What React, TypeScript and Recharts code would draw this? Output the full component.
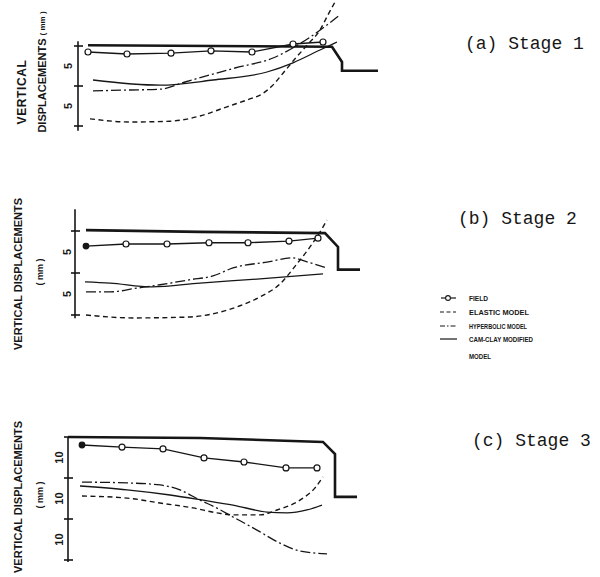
import React from 'react';
import { LineChart, Line, XAxis, YAxis, ReferenceLine } from 'recharts';

// x = distance along the section (from the displacement axis), y = vertical displacement (mm, downward)

// ---- (a) Stage 1 ----
const S1_EMBANKMENT = [{ x: 10, y: -0.1 }, { x: 254, y: 0.1 }, { x: 264, y: 2.0 }, { x: 264, y: 3.1 }, { x: 300, y: 3.1 }];
const S1_FIELD = [{ x: 10, y: 0.75 }, { x: 49, y: 1.0 }, { x: 93, y: 0.9 }, { x: 133, y: 0.6 }, { x: 174, y: 0.75 }, { x: 215, y: -0.25 }, { x: 245, y: -0.5 }];
const S1_ELASTIC = [{ x: 12, y: 9.1 }, { x: 52, y: 9.5 }, { x: 92, y: 9.4 }, { x: 122, y: 8.75 }, { x: 149, y: 7.6 }, { x: 170, y: 6.7 }, { x: 184, y: 6.0 }, { x: 194, y: 5.0 }, { x: 205, y: 3.4 }, { x: 217, y: 1.6 }, { x: 229, y: -0.1 }, { x: 242, y: -2.0 }, { x: 250, y: -3.9 }, { x: 257, y: -5.5 }];
const S1_HYPERBOLIC = [{ x: 15, y: 5.6 }, { x: 52, y: 5.5 }, { x: 82, y: 5.4 }, { x: 107, y: 4.5 }, { x: 157, y: 2.75 }, { x: 195, y: 1.5 }, { x: 232, y: -1.1 }, { x: 262, y: -3.9 }];
const S1_CAMCLAY = [{ x: 15, y: 4.25 }, { x: 82, y: 4.9 }, { x: 135, y: 4.25 }, { x: 189, y: 3.25 }, { x: 215, y: 2.1 }, { x: 242, y: 0.5 }, { x: 259, y: -0.5 }];

// ---- (b) Stage 2 ----
const S2_EMBANKMENT = [{ x: 11, y: -0.1 }, { x: 125, y: 0.1 }, { x: 250, y: 0.25 }, { x: 263, y: 1.9 }, { x: 263, y: 4.6 }, { x: 285, y: 4.6 }];
const S2_FIELD = [{ x: 11, y: 1.8 }, { x: 51, y: 1.55 }, { x: 92, y: 1.55 }, { x: 134, y: 1.4 }, { x: 173, y: 1.4 }, { x: 214, y: 1.2 }, { x: 243, y: 0.85 }];
const S2_ELASTIC = [{ x: 11, y: 10.0 }, { x: 58, y: 10.35 }, { x: 112, y: 10.25 }, { x: 142, y: 9.75 }, { x: 165, y: 8.9 }, { x: 185, y: 7.85 }, { x: 205, y: 6.3 }, { x: 222, y: 3.9 }, { x: 235, y: 1.9 }, { x: 243, y: 0.5 }, { x: 252, y: -1.3 }];
const S2_HYPERBOLIC = [{ x: 11, y: 7.25 }, { x: 35, y: 7.25 }, { x: 62, y: 6.8 }, { x: 85, y: 6.4 }, { x: 115, y: 5.8 }, { x: 138, y: 5.35 }, { x: 158, y: 4.4 }, { x: 192, y: 3.7 }, { x: 218, y: 3.2 }, { x: 230, y: 3.6 }, { x: 252, y: 4.4 }];
const S2_CAMCLAY = [{ x: 10, y: 6.05 }, { x: 35, y: 6.2 }, { x: 77, y: 6.65 }, { x: 125, y: 6.2 }, { x: 185, y: 5.7 }, { x: 248, y: 5.1 }];

// ---- (c) Stage 3 ----
const S3_EMBANKMENT = [{ x: 0, y: 0 }, { x: 132, y: 0.25 }, { x: 255, y: 1.2 }, { x: 267, y: 4.15 }, { x: 267, y: 14.6 }, { x: 289, y: 14.6 }];
const S3_FIELD = [{ x: 14, y: 1.95 }, { x: 54, y: 2.45 }, { x: 95, y: 2.9 }, { x: 136, y: 5.1 }, { x: 176, y: 6.1 }, { x: 218, y: 7.55 }, { x: 249, y: 7.55 }];
const S3_ELASTIC = [{ x: 14, y: 14.4 }, { x: 59, y: 14.9 }, { x: 92, y: 16.1 }, { x: 125, y: 17.3 }, { x: 149, y: 18.5 }, { x: 165, y: 19.0 }, { x: 192, y: 19.0 }, { x: 209, y: 17.8 }, { x: 232, y: 15.4 }, { x: 247, y: 12.4 }, { x: 255, y: 9.75 }];
const S3_HYPERBOLIC = [{ x: 14, y: 11.0 }, { x: 59, y: 11.2 }, { x: 92, y: 11.7 }, { x: 112, y: 12.9 }, { x: 132, y: 15.4 }, { x: 147, y: 17.1 }, { x: 165, y: 19.5 }, { x: 189, y: 22.7 }, { x: 212, y: 25.9 }, { x: 232, y: 27.8 }, { x: 259, y: 28.5 }];
const S3_CAMCLAY = [{ x: 12, y: 11.95 }, { x: 59, y: 12.9 }, { x: 102, y: 14.15 }, { x: 135, y: 15.4 }, { x: 165, y: 16.6 }, { x: 199, y: 18.3 }, { x: 219, y: 18.5 }, { x: 239, y: 17.8 }, { x: 254, y: 16.6 }];

// ---- tick labels ----
const S1_TICKS = [0, 5, 10];
const S1_LABEL_AT = [2.5, 7.5];
const S1_LABEL = '5';
const S2_TICKS = [0, 5, 10];
const S2_LABEL_AT = [2.5, 7.5];
const S2_LABEL = '5';
const S3_TICKS = [0, 10, 20, 30];
const S3_LABEL_AT = [5, 15, 25];
const S3_LABEL = '10';

const STAGE_TITLES = ['(a) Stage 1', '(b) Stage 2', '(c) Stage 3'];
const LEGEND_NAMES = ['FIELD', 'ELASTIC MODEL', 'HYPERBOLIC MODEL', 'CAM-CLAY MODIFIED', 'MODEL'];

const INK = '#161616';
const BOLD_FONT = '"Liberation Sans", Arial, sans-serif';
const MONO_FONT = '"Liberation Mono", "DejaVu Sans Mono", monospace';

const ELASTIC_DASH = '5 3.5';
const HYPER_DASH = '10 3 2 3';

const makeTick = (majors: number[], label: string, gap: number) => (props: any) => {
  const { x, y, payload } = props;
  const v = Number(payload.value);
  if (majors.includes(v)) {
    return <line x1={x - 4} y1={y} x2={x + 5} y2={y} stroke={INK} strokeWidth={1.6} />;
  }
  const tx = x - gap;
  return (
    <text
      x={tx}
      y={y}
      transform={`rotate(-90 ${tx} ${y})`}
      textAnchor="middle"
      fontSize={11}
      fontWeight="bold"
      fontFamily={BOLD_FONT}
      fill={INK}
    >
      {label}
    </text>
  );
};

const makeFieldDot = (filledFirst: boolean) => (props: any) => {
  const { cx, cy, index } = props;
  if (cx == null || cy == null) return <g key={`d${index}`} />;
  return (
    <circle
      key={`d${index}`}
      cx={cx}
      cy={cy}
      r={index === 0 && filledFirst ? 2.8 : 3}
      fill={index === 0 && filledFirst ? INK : '#fff'}
      stroke={INK}
      strokeWidth={1.2}
    />
  );
};

type Pt = { x: number; y: number };
type PanelProps = {
  top: number;
  height: number;
  axisWidth: number;
  yDomain: [number, number];
  majors: number[];
  labelAt: number[];
  label: string;
  labelGap: number;
  axisFrom: number;
  axisTo: number;
  emb: Pt[];
  field: Pt[];
  elastic: Pt[];
  hyper: Pt[];
  cam: Pt[];
  filledFirst: boolean;
};

const Panel = (p: PanelProps) => (
  <div style={{ position: 'absolute', left: 0, top: p.top }}>
    <LineChart width={600} height={p.height} margin={{ top: 0, right: 0, bottom: 0, left: 0 }}>
      <XAxis type="number" dataKey="x" domain={[0, 600 - p.axisWidth]} hide allowDataOverflow />
      <YAxis
        type="number"
        dataKey="y"
        domain={p.yDomain}
        reversed
        allowDataOverflow
        width={p.axisWidth}
        ticks={[...p.majors, ...p.labelAt]}
        interval={0}
        tick={makeTick(p.majors, p.label, p.labelGap)}
        tickSize={0}
        tickMargin={0}
        axisLine={false}
        tickLine={false}
      />
      <ReferenceLine
        segment={[{ x: 0, y: p.axisFrom }, { x: 0, y: p.axisTo }]}
        stroke={INK}
        strokeWidth={1.6}
      />
      <Line data={p.emb} dataKey="y" type="linear" stroke={INK} strokeWidth={2.6} dot={false} activeDot={false} isAnimationActive={false} />
      <Line data={p.elastic} dataKey="y" type="monotone" stroke={INK} strokeWidth={1.4} strokeDasharray={ELASTIC_DASH} dot={false} activeDot={false} isAnimationActive={false} />
      <Line data={p.hyper} dataKey="y" type="monotone" stroke={INK} strokeWidth={1.3} strokeDasharray={HYPER_DASH} dot={false} activeDot={false} isAnimationActive={false} />
      <Line data={p.cam} dataKey="y" type="monotone" stroke={INK} strokeWidth={1.3} dot={false} activeDot={false} isAnimationActive={false} />
      <Line data={p.field} dataKey="y" type="linear" stroke={INK} strokeWidth={1.3} dot={makeFieldDot(p.filledFirst)} activeDot={false} isAnimationActive={false} />
    </LineChart>
  </div>
);

const rot = (x: number, y: number) => `rotate(-90 ${x} ${y})`;

const Overlay = () => (
  <svg width={600} height={577} style={{ position: 'absolute', left: 0, top: 0, pointerEvents: 'none' }}>
    <g fontFamily={BOLD_FONT} fontWeight="bold" fill={INK}>
      {/* (a) axis title */}
      <text x={22} y={92} transform={rot(22, 92)} textAnchor="middle" dominantBaseline="central" fontSize={12} letterSpacing={0.6}>VERTICAL</text>
      <text x={42} y={72} transform={rot(42, 72)} textAnchor="middle" dominantBaseline="central" fontSize={11}>
        DISPLACEMENTS <tspan fontSize={8}>( mm )</tspan>
      </text>
      {/* (b) axis title */}
      <text x={18} y={274} transform={rot(18, 274)} textAnchor="middle" dominantBaseline="central" fontSize={11}>VERTICAL DISPLACEMENTS</text>
      <text x={40} y={272} transform={rot(40, 272)} textAnchor="middle" dominantBaseline="central" fontSize={9}>( mm )</text>
      {/* (c) axis title */}
      <text x={18} y={497} transform={rot(18, 497)} textAnchor="middle" dominantBaseline="central" fontSize={11}>VERTICAL DISPLACEMENTS</text>
      <text x={40} y={495} transform={rot(40, 495)} textAnchor="middle" dominantBaseline="central" fontSize={9}>( mm )</text>
    </g>
    <g fontFamily={MONO_FONT} fontSize={18} fill={INK}>
      <text x={465} y={49}>{STAGE_TITLES[0]}</text>
      <text x={458} y={224}>{STAGE_TITLES[1]}</text>
      <text x={472} y={446}>{STAGE_TITLES[2]}</text>
    </g>
    <g fontFamily={BOLD_FONT} fontWeight="bold" fontSize={7} fill={INK}>
      <line x1={441} y1={298} x2={456} y2={298} stroke={INK} strokeWidth={1.2} />
      <circle cx={448} cy={298} r={2.4} fill="#fff" stroke={INK} strokeWidth={1.1} />
      <text x={469} y={298} dominantBaseline="central" textLength={19} lengthAdjust="spacingAndGlyphs">{LEGEND_NAMES[0]}</text>
      <line x1={440} y1={312} x2={456} y2={312} stroke={INK} strokeWidth={1.2} strokeDasharray="4 2.5" />
      <text x={469} y={312} dominantBaseline="central" textLength={60} lengthAdjust="spacingAndGlyphs">{LEGEND_NAMES[1]}</text>
      <line x1={440} y1={326} x2={456} y2={326} stroke={INK} strokeWidth={1.2} strokeDasharray="5 2 1.5 2" />
      <text x={469} y={326} dominantBaseline="central" textLength={58} lengthAdjust="spacingAndGlyphs">{LEGEND_NAMES[2]}</text>
      <line x1={440} y1={339} x2={457} y2={339} stroke={INK} strokeWidth={1.2} />
      <text x={469} y={339} dominantBaseline="central" textLength={64} lengthAdjust="spacingAndGlyphs">{LEGEND_NAMES[3]}</text>
      <text x={469} y={356} dominantBaseline="central" textLength={22} lengthAdjust="spacingAndGlyphs">{LEGEND_NAMES[4]}</text>
    </g>
  </svg>
);

export default function App() {
  return (
    <div style={{ position: 'absolute', left: 0, top: 0, width: 600, height: 577, background: '#fff', overflow: 'hidden' }}>
      <Panel
        top={0}
        height={170}
        axisWidth={78}
        yDomain={[-5.75, 15.5]}
        majors={S1_TICKS}
        labelAt={S1_LABEL_AT}
        label={S1_LABEL}
        labelGap={6}
        axisFrom={-0.6}
        axisTo={10.6}
        emb={S1_EMBANKMENT}
        field={S1_FIELD}
        elastic={S1_ELASTIC}
        hyper={S1_HYPERBOLIC}
        cam={S1_CAMCLAY}
        filledFirst={false}
      />
      <Panel
        top={175}
        height={215}
        axisWidth={75}
        yDomain={[-6.667, 18.929]}
        majors={S2_TICKS}
        labelAt={S2_LABEL_AT}
        label={S2_LABEL}
        labelGap={4}
        axisFrom={-2.6}
        axisTo={10.4}
        emb={S2_EMBANKMENT}
        field={S2_FIELD}
        elastic={S2_ELASTIC}
        hyper={S2_HYPERBOLIC}
        cam={S2_CAMCLAY}
        filledFirst={true}
      />
      <Panel
        top={395}
        height={182}
        axisWidth={68}
        yDomain={[-10.244, 34.146]}
        majors={S3_TICKS}
        labelAt={S3_LABEL_AT}
        label={S3_LABEL}
        labelGap={5}
        axisFrom={0}
        axisTo={30.5}
        emb={S3_EMBANKMENT}
        field={S3_FIELD}
        elastic={S3_ELASTIC}
        hyper={S3_HYPERBOLIC}
        cam={S3_CAMCLAY}
        filledFirst={true}
      />
      <Overlay />
    </div>
  );
}
